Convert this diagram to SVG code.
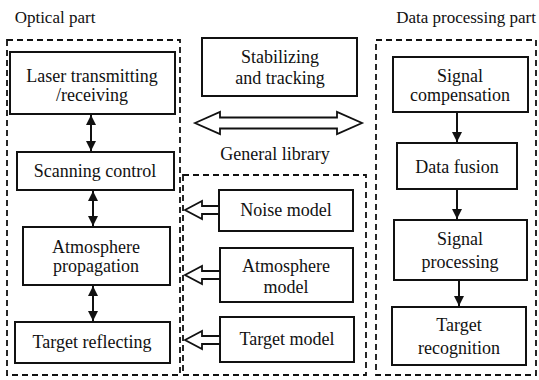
<svg xmlns="http://www.w3.org/2000/svg" width="539" height="380" viewBox="0 0 539 380">
<defs>
<marker id="ah" viewBox="0 0 10 10" refX="10" refY="5" markerWidth="5" markerHeight="6" orient="auto-start-reverse" markerUnits="strokeWidth">
<path d="M0,0 L10,5 L0,10 Z" fill="#111"/>
</marker>
</defs>
<rect width="539" height="380" fill="#fff"/>

<g fill="none" stroke="#111" stroke-width="1.8" stroke-dasharray="6 4">
<rect id="optical-frame" x="7" y="40" width="173" height="335"/>
<rect id="library-frame" x="183" y="175" width="183" height="200"/>
<rect id="data-frame" x="376" y="40" width="160" height="335"/>
</g>

<g id="optical-part">
<text x="55" y="23" font-family="Liberation Serif" font-size="17" fill="#111" text-anchor="middle">Optical part</text>
</g>
<g id="general-library">
<text x="275" y="160" font-family="Liberation Serif" font-size="18" fill="#111" text-anchor="middle">General library</text>
</g>
<g id="data-processing-part">
<text x="466" y="23" font-family="Liberation Serif" font-size="17" fill="#111" text-anchor="middle">Data processing part</text>
</g>

<g id="laser">
<rect x="10" y="52" width="165" height="62" fill="#fff" stroke="#111" stroke-width="2"/>
<text x="92" y="82" font-family="Liberation Serif" font-size="18" fill="#111" text-anchor="middle">Laser transmitting</text>
<text x="92" y="101" font-family="Liberation Serif" font-size="18" fill="#111" text-anchor="middle">/receiving</text>
</g>
<g id="scanning">
<rect x="17" y="152" width="157" height="38" fill="#fff" stroke="#111" stroke-width="2"/>
<text x="95" y="177" font-family="Liberation Serif" font-size="18" fill="#111" text-anchor="middle">Scanning control</text>
</g>
<g id="atmosphere-propagation">
<rect x="23" y="227" width="147" height="58" fill="#fff" stroke="#111" stroke-width="2"/>
<text x="96" y="253" font-family="Liberation Serif" font-size="18" fill="#111" text-anchor="middle">Atmosphere</text>
<text x="96" y="272" font-family="Liberation Serif" font-size="18" fill="#111" text-anchor="middle">propagation</text>
</g>
<g id="target-reflecting">
<rect x="15" y="322" width="155" height="41" fill="#fff" stroke="#111" stroke-width="2"/>
<text x="92" y="348" font-family="Liberation Serif" font-size="18" fill="#111" text-anchor="middle">Target reflecting</text>
</g>

<g id="stabilizing">
<rect x="202" y="38" width="155" height="58" fill="#fff" stroke="#111" stroke-width="2"/>
<text x="280" y="63" font-family="Liberation Serif" font-size="18" fill="#111" text-anchor="middle">Stabilizing</text>
<text x="280" y="84" font-family="Liberation Serif" font-size="18" fill="#111" text-anchor="middle">and tracking</text>
</g>

<g id="noise-model">
<rect x="219" y="190" width="134" height="41" fill="#fff" stroke="#111" stroke-width="2"/>
<text x="286" y="216" font-family="Liberation Serif" font-size="18" fill="#111" text-anchor="middle">Noise model</text>
</g>
<g id="atmosphere-model">
<rect x="220" y="248" width="133" height="54" fill="#fff" stroke="#111" stroke-width="2"/>
<text x="286" y="272" font-family="Liberation Serif" font-size="18" fill="#111" text-anchor="middle">Atmosphere</text>
<text x="286" y="293" font-family="Liberation Serif" font-size="18" fill="#111" text-anchor="middle">model</text>
</g>
<g id="target-model">
<rect x="220" y="317" width="134" height="45" fill="#fff" stroke="#111" stroke-width="2"/>
<text x="287" y="345" font-family="Liberation Serif" font-size="18" fill="#111" text-anchor="middle">Target model</text>
</g>

<g id="signal-compensation">
<rect x="393" y="57" width="135" height="55" fill="#fff" stroke="#111" stroke-width="2"/>
<text x="460" y="82" font-family="Liberation Serif" font-size="18" fill="#111" text-anchor="middle">Signal</text>
<text x="460" y="101" font-family="Liberation Serif" font-size="18" fill="#111" text-anchor="middle">compensation</text>
</g>
<g id="data-fusion">
<rect x="397" y="143" width="120" height="46" fill="#fff" stroke="#111" stroke-width="2"/>
<text x="457" y="173" font-family="Liberation Serif" font-size="18" fill="#111" text-anchor="middle">Data fusion</text>
</g>
<g id="signal-processing">
<rect x="394" y="220" width="133" height="60" fill="#fff" stroke="#111" stroke-width="2"/>
<text x="460" y="245" font-family="Liberation Serif" font-size="18" fill="#111" text-anchor="middle">Signal</text>
<text x="460" y="268" font-family="Liberation Serif" font-size="18" fill="#111" text-anchor="middle">processing</text>
</g>
<g id="target-recognition">
<rect x="392" y="307" width="134" height="58" fill="#fff" stroke="#111" stroke-width="2"/>
<text x="459" y="331" font-family="Liberation Serif" font-size="18" fill="#111" text-anchor="middle">Target</text>
<text x="459" y="354" font-family="Liberation Serif" font-size="18" fill="#111" text-anchor="middle">recognition</text>
</g>

<g id="connectors" stroke="#111" stroke-width="2">
<line x1="91" y1="115" x2="91" y2="151" marker-start="url(#ah)" marker-end="url(#ah)"/>
<line x1="93" y1="191" x2="93" y2="226" marker-start="url(#ah)" marker-end="url(#ah)"/>
<line x1="93" y1="286" x2="93" y2="321" marker-start="url(#ah)" marker-end="url(#ah)"/>
<line x1="457" y1="112" x2="457" y2="142" marker-end="url(#ah)"/>
<line x1="457" y1="189" x2="457" y2="219" marker-end="url(#ah)"/>
<line x1="459" y1="280" x2="459" y2="306" marker-end="url(#ah)"/>
<g fill="#fff" stroke-width="1.8">
<polygon points="195,123 220,112 220,117.5 337,117.5 337,112 362,123 337,134 337,128.5 220,128.5 220,134"/>
<polygon points="185,210 202,201 202,206 219,206 219,214 202,214 202,219"/>
<polygon points="185,275 202,266 202,271 220,271 220,279 202,279 202,284"/>
<polygon points="185,340 202,331 202,336 220,336 220,344 202,344 202,349"/>
</g>
</g>
</svg>
